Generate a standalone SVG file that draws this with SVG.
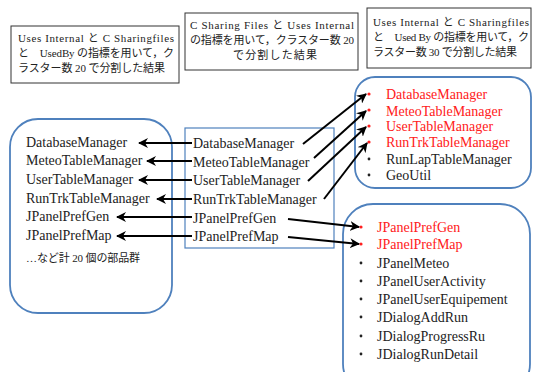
<svg xmlns="http://www.w3.org/2000/svg" width="533" height="372" viewBox="0 0 533 372">
<style>
.t{font-family:"Liberation Serif","DejaVu Serif",serif;font-size:14px;fill:#222}
.r{fill:#ff2020}
.n{font-family:"Liberation Serif","Noto Sans CJK JP",serif;font-size:11px;fill:#222}
.bx{fill:#fff;stroke:#333;stroke-width:1}
.rb{fill:#fff;stroke:#4f81bd;stroke-width:1.8}
.ar{stroke:#000;stroke-width:2;fill:none;marker-end:url(#ah)}
.bul{fill:#222}
.bulr{fill:#ff2020}
</style>
<defs>
<marker id="ah" viewBox="0 0 10 10" refX="9" refY="5" markerWidth="5" markerHeight="5" orient="auto" markerUnits="strokeWidth">
<path d="M0,0 L10,5 L0,10 L3,5 z" fill="#000"/>
</marker>
</defs>
<rect width="533" height="372" fill="#fff"/>

<g id="note1">
<rect class="bx" x="11" y="26" width="168" height="57"/>
<text class="n" x="18" y="42" textLength="156" lengthAdjust="spacing">Uses Internal と C Sharingfiles</text>
<text class="n" x="18" y="57" textLength="156" lengthAdjust="spacing">と　UsedBy の指標を用いて，ク</text>
<text class="n" x="18" y="72" textLength="147" lengthAdjust="spacing">ラスター数 20 で分割した結果</text>
</g>
<g id="note2">
<rect class="bx" x="185" y="13" width="173" height="57"/>
<text class="n" x="190" y="29" textLength="164" lengthAdjust="spacing">C Sharing Files と Uses Internal</text>
<text class="n" x="190" y="44" textLength="164" lengthAdjust="spacing">の指標を用いて，クラスター数 20</text>
<text class="n" x="233" y="59" textLength="84" lengthAdjust="spacing">で分割した結果</text>
</g>
<g id="note3">
<rect class="bx" x="367" y="8" width="164" height="60"/>
<text class="n" x="373" y="26" textLength="156" lengthAdjust="spacing">Uses Internal と C Sharingfiles</text>
<text class="n" x="373" y="41" textLength="156" lengthAdjust="spacing">と　Used By の指標を用いて，ク</text>
<text class="n" x="373" y="56" textLength="144" lengthAdjust="spacing">ラスター数 30 で分割した結果</text>
</g>

<g id="left">
<rect class="rb" x="10" y="119" width="162" height="194" rx="28"/>
<text class="t" x="26" y="147">DatabaseManager</text>
<text class="t" x="26" y="165">MeteoTableManager</text>
<text class="t" x="26" y="184">UserTableManager</text>
<text class="t" x="26" y="203">RunTrkTableManager</text>
<text class="t" x="26" y="221">JPanelPrefGen</text>
<text class="t" x="26" y="240">JPanelPrefMap</text>
<text class="n" x="26" y="262" textLength="114" lengthAdjust="spacing">…など計 20 個の部品群</text>
</g>

<g id="middle">
<rect x="185" y="128" width="149" height="120" fill="#fff" stroke="#4f81bd" stroke-width="1.2"/>
<text class="t" x="193" y="148">DatabaseManager</text>
<text class="t" x="193" y="167">MeteoTableManager</text>
<text class="t" x="193" y="185">UserTableManager</text>
<text class="t" x="193" y="204">RunTrkTableManager</text>
<text class="t" x="193" y="223">JPanelPrefGen</text>
<text class="t" x="193" y="241">JPanelPrefMap</text>
</g>

<g id="rightTop">
<rect class="rb" x="355" y="77" width="176" height="111" rx="20"/>
<circle class="bulr" cx="369" cy="94" r="1.6"/>
<circle class="bulr" cx="369" cy="110" r="1.6"/>
<circle class="bulr" cx="369" cy="126" r="1.6"/>
<circle class="bulr" cx="369" cy="142" r="1.6"/>
<circle class="bul" cx="369" cy="159" r="1.4"/>
<circle class="bul" cx="369" cy="175" r="1.4"/>
<text class="t r" x="386" y="99">DatabaseManager</text>
<text class="t r" x="386" y="116">MeteoTableManager</text>
<text class="t r" x="386" y="131">UserTableManager</text>
<text class="t r" x="386" y="147">RunTrkTableManager</text>
<text class="t" x="386" y="164">RunLapTableManager</text>
<text class="t" x="386" y="180">GeoUtil</text>
</g>

<g id="rightBottom">
<rect class="rb" x="343" y="204" width="187" height="190" rx="30"/>
<circle class="bulr" cx="361" cy="227" r="1.6"/>
<circle class="bulr" cx="361" cy="244" r="1.6"/>
<circle class="bul" cx="361" cy="263" r="1.4"/>
<circle class="bul" cx="361" cy="281" r="1.4"/>
<circle class="bul" cx="361" cy="299" r="1.4"/>
<circle class="bul" cx="361" cy="317" r="1.4"/>
<circle class="bul" cx="361" cy="336" r="1.4"/>
<circle class="bul" cx="361" cy="354" r="1.4"/>
<text class="t r" x="377" y="232">JPanelPrefGen</text>
<text class="t r" x="377" y="249">JPanelPrefMap</text>
<text class="t" x="377" y="268">JPanelMeteo</text>
<text class="t" x="377" y="286">JPanelUserActivity</text>
<text class="t" x="377" y="304">JPanelUserEquipement</text>
<text class="t" x="377" y="322">JDialogAddRun</text>
<text class="t" x="377" y="341">JDialogProgressRu</text>
<text class="t" x="377" y="359">JDialogRunDetail</text>
</g>

<g id="connectors">
<line class="ar" x1="192" y1="143" x2="139" y2="143"/>
<line class="ar" x1="192" y1="161" x2="147" y2="161"/>
<line class="ar" x1="192" y1="180" x2="139" y2="180"/>
<line class="ar" x1="192" y1="199" x2="157" y2="199"/>
<line class="ar" x1="192" y1="217" x2="117" y2="217"/>
<line class="ar" x1="192" y1="236" x2="117" y2="236"/>
<line class="ar" x1="303" y1="144" x2="366" y2="94"/>
<line class="ar" x1="314" y1="158" x2="366" y2="111"/>
<line class="ar" x1="308" y1="181" x2="366" y2="127"/>
<line class="ar" x1="324" y1="199" x2="367" y2="143"/>
<line class="ar" x1="288" y1="219" x2="359" y2="227"/>
<line class="ar" x1="288" y1="237" x2="359" y2="244"/>
</g>
</svg>
